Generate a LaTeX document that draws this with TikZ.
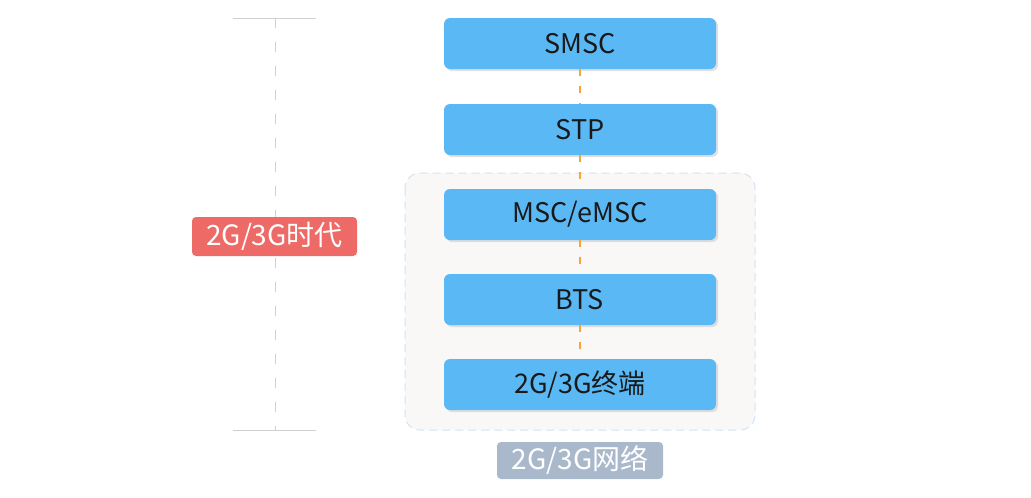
\documentclass[tikz,border=0pt]{standalone}
\usepackage{fontspec}
\setmainfont{Noto Sans CJK SC}
\usetikzlibrary{shadows}
\definecolor{boxblue}{HTML}{5AB9F5}
\definecolor{linkor}{HTML}{F5A53A}
\definecolor{contfill}{HTML}{F9F8F7}
\definecolor{contline}{HTML}{CFE4F7}
\definecolor{tagred}{HTML}{EE6A67}
\definecolor{taggrey}{HTML}{AAB8CB}
\definecolor{rulegrey}{HTML}{D0D0D0}
\tikzset{
  layerbox/.style={fill=boxblue, rounded corners=6pt, minimum width=272pt, minimum height=51pt, inner sep=0pt,
    font=\fontsize{27}{30}\selectfont, text=black!90,
    drop shadow={shadow xshift=2pt, shadow yshift=-2pt, fill=black!20, opacity=0.6}},
  link/.style={draw=linkor, line width=1.5pt, dash pattern=on 7pt off 10pt},
  tag/.style={rounded corners=4pt, inner sep=0pt, text=white, font=\fontsize{28}{30}\selectfont},
  rule/.style={draw=rulegrey, line width=1pt}
}
\begin{document}
\begin{tikzpicture}[x=1pt,y=-1pt]
\useasboundingbox (0,0) rectangle (1031,498);
% container
\draw[fill=contfill, draw=contline, dashed, dash pattern=on 8pt off 5pt, line width=1pt, rounded corners=15pt] (405,173) rectangle (755,430);
% left scale
\coordinate (st) at (275,18);
\coordinate (sb) at (275,430);
\draw[rule] (233,18) -- (316,18);
\draw[rule] (233,430) -- (316,430);
\draw[rule, dash pattern=on 10pt off 14pt] (st) -- (sb);
\node[tag, fill=tagred, minimum width=165pt, minimum height=39pt] (era) at (274.5,236.5) {2G/3G时代};
% boxes
\node[layerbox] (smsc) at (580,43.5) {SMSC};
\node[layerbox] (stp) at (580,129.5) {STP};
\node[layerbox] (msc) at (580,214.5) {MSC/eMSC};
\node[layerbox] (bts) at (580,299.5) {BTS};
\node[layerbox] (term) at (580,384.5) {2G/3G终端};
\draw[link] (smsc.south) -- (stp.north);
\draw[link] (stp.south) -- (msc.north);
\draw[link] (msc.south) -- (bts.north);
\draw[link] (bts.south) -- (term.north);
\node[tag, fill=taggrey, minimum width=166pt, minimum height=37pt] (net) at (580,460.5) {2G/3G网络};
\end{tikzpicture}
\end{document}
